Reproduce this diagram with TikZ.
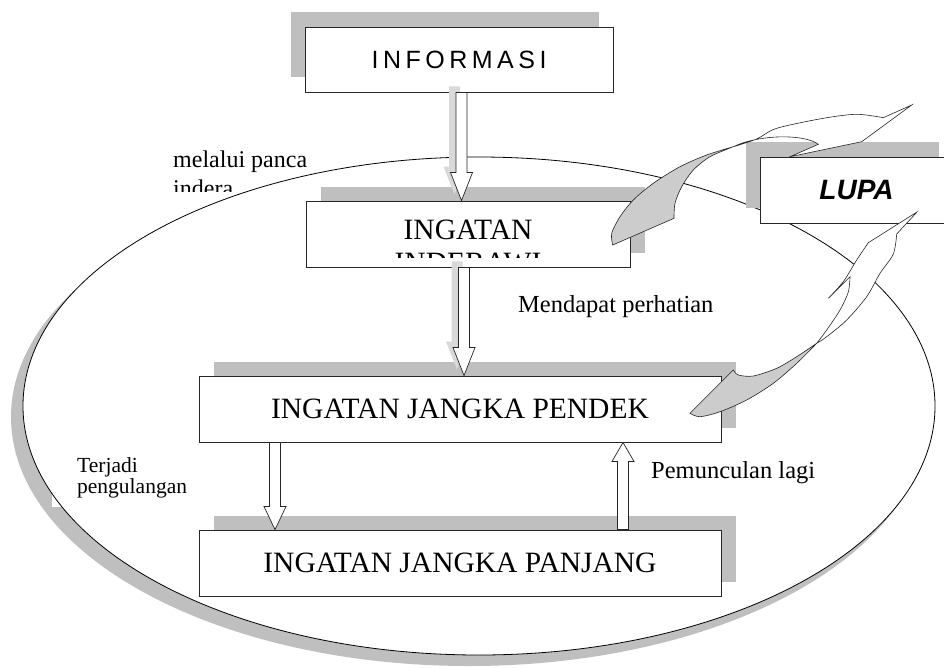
\documentclass[tikz,border=0pt]{standalone}
\usepackage{fontspec}
\setmainfont{Liberation Serif}
\newfontfamily\handfont{Liberation Sans}[LetterSpace=18]
\newfontfamily\brushfont{Liberation Sans}
\usetikzlibrary{calc,shadows}
\definecolor{shadegray}{gray}{0.75}
\definecolor{bandgray}{gray}{0.8}

% hollow block arrow: [style]{from}{to}{head length}
\newcommand\blockarrow[4][]{%
  \path (#2) coordinate (ba) (#3) coordinate (bb);
  \coordinate (bh) at ($(bb)!#4!(ba)$);
  \draw[blockarr,#1] ($(ba)!5.5pt!90:(bb)$) -- ($(bh)!5.5pt!90:(bb)$) -- ($(bh)!11pt!90:(bb)$) -- (bb)
    -- ($(bh)!11pt!-90:(bb)$) -- ($(bh)!5.5pt!-90:(bb)$) -- ($(ba)!5.5pt!-90:(bb)$) -- cycle;}

\begin{document}
\begin{tikzpicture}[x=1pt, y=-1pt,
  box/.style={draw=black!85, fill=white, line width=0.9pt, inner sep=0pt, minimum height=66pt, font=\fontsize{29.5}{33.5}\selectfont},
  shadeR/.style={drop shadow={shadow xshift=15pt, shadow yshift=14pt, fill=shadegray, opacity=1}},
  shadeL/.style={drop shadow={shadow xshift=-14pt, shadow yshift=15pt, fill=shadegray, opacity=1}},
  lbl/.style={inner sep=0pt, align=left, font=\fontsize{24.5}{29}\selectfont},
  blockarr/.style={draw=black!85, fill=white, line width=0.7pt},
  arrowshade/.style={draw=none, fill=gray!30},
  band/.style={draw=black!85, line width=0.6pt}]

\useasboundingbox (0,0) rectangle (944,667);
\clip (0,0) rectangle (944,667);
\fill[white] (0,0) rectangle (944,667);

% ellipse with its shadow
\fill[shadegray] (469,417) ellipse [x radius=458pt, y radius=249pt];
\fill[white] (479,406) ellipse [x radius=456pt, y radius=249pt];
\node[lbl, fill=white, inner xsep=25pt, inner ysep=9pt, anchor=north west, font=\fontsize{21.5}{21.5}\selectfont] (terjadi) at (52,448) {Terjadi\\pengulangan};
\draw[line width=0.8pt] (479,406) ellipse [x radius=456pt, y radius=249pt];

% boxes
\node[box, shadeL, minimum width=308pt, minimum height=65pt, font=\handfont\fontsize{25}{30}\selectfont] (info) at (459,59.5) {INFORMASI};
\node[box, shadeR, minimum width=324pt] (ind) at (468,234) {};
\node[box, shadeR, minimum width=522pt] (pendek) at (460,409) {INGATAN JANGKA PENDEK};
\node[box, shadeR, minimum width=522pt] (panjang) at (460,563) {INGATAN JANGKA PANJANG};
\node[box, shadeL, minimum width=193pt, font=\brushfont\bfseries\itshape\fontsize{28}{30}\selectfont] (lupa) at (856.5,190) {LUPA};

% block arrows
\begin{scope}[transform canvas={shift={(-7pt,6pt)}}]
  \blockarrow[arrowshade]{$(info.south)+(2.5,0)$}{$(ind.north)+(-6.5,0)$}{28pt}
  \blockarrow[arrowshade]{$(ind.south)+(-4,0)$}{$(pendek.north)+(4,0)$}{28pt}
\end{scope}
\blockarrow{$(info.south)+(2.5,0)$}{$(ind.north)+(-6.5,0)$}{28pt}
\blockarrow{$(ind.south)+(-4,0)$}{$(pendek.north)+(4,0)$}{28pt}
\blockarrow{$(pendek.south)+(-185,0)$}{$(panjang.north)+(-185,0)$}{23pt}
\blockarrow{$(panjang.north)+(163,0)$}{$(pendek.south)+(163,0)$}{19pt}

% labels
\node[lbl, anchor=base west] (mendapat) at (518,312) {Mendapat perhatian};
\node[lbl, anchor=base west] (muncul) at (651,478) {Pemunculan lagi};
\begin{scope}
  \clip (150,140) rectangle (330,191);
  \node[lbl, anchor=north west, font=\fontsize{24}{29}\selectfont] (melalui) at (173,150.6) {melalui panca\\indera};
\end{scope}
\begin{scope}
  \clip (ind.north west) rectangle (630,257.5);
  \node[inner sep=0pt, align=center, anchor=north, font=\fontsize{29.5}{33.5}\selectfont] (indtext) at (468,219.5) {INGATAN\\INDERAWI};
\end{scope}

% curved arrows to LUPA
\filldraw[band, fill=bandgray] plot[smooth] coordinates {(690,413.3) (700,416.7) (720,411.7) (746.7,400) (773.3,383.3) (796.7,363.3) (816.7,343.3)}
  -- plot[smooth] coordinates {(816.7,343.3) (796.7,356.7) (776.7,368.3) (753.3,376) (738.3,375) (733.3,370)} -- cycle;
\filldraw[band, fill=white] plot[smooth] coordinates {(816.7,343.3) (826.7,330) (840,310) (848.3,292) (850,276.7)} -- (828.3,298.3)
  -- plot[smooth] coordinates {(828.3,298.3) (843.3,281.7) (856.7,260) (868.3,242.7)} -- (917,212) -- (896.7,234)
  -- plot[smooth] coordinates {(896.7,234) (893.3,254) (880,273.3) (866.7,296.7) (846.7,320) (826.7,336.7) (816.7,343.3)} -- cycle;
\filldraw[band, fill=bandgray] plot[smooth] coordinates {(612.7,245) (611.7,233.3) (620,216.7) (633.3,200) (653.3,183.3) (680,166.7) (706.7,155) (733.3,146.7)}
  -- plot[smooth] coordinates {(733.3,146.7) (710,156.7) (693.3,170) (681.7,186.7) (675,203.3) (674,218.3)} -- cycle;
\filldraw[band, fill=white] plot[smooth] coordinates {(733.3,146.7) (756.7,139) (776.7,128.3) (823.3,118.3) (856.7,114.3) (883.3,117.7)}
  -- (911.7,105) -- (861.7,141.7) -- (790,156.7) -- (818.3,144.3) .. controls (805,134) and (760,134) .. (733.3,146.7) -- cycle;
\end{tikzpicture}
\end{document}
